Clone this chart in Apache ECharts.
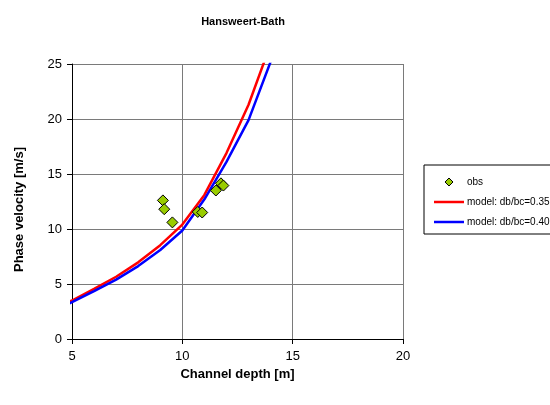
<!DOCTYPE html>
<html>
<head>
<meta charset="utf-8">
<script src="https://cdn.jsdelivr.net/npm/echarts@6/dist/echarts.min.js"></script>
<style>
html,body{margin:0;padding:0;background:#fff;}
#chart{width:550px;height:405px;}
</style>
</head>
<body>
<div id="chart"></div>
<script>
// ---- data ----
var titleText = 'Hansweert-Bath';
var xName = 'Channel depth [m]';
var yName = 'Phase velocity [m/s]';
var xTicks = [5, 10, 15, 20];
var yTicks = [0, 5, 10, 15, 20, 25];

var obsName = 'obs';
var obsDepth = [9.12, 9.18, 9.55, 10.70, 10.90, 11.52, 11.75, 11.86];
var obsVel   = [12.60, 11.80, 10.60, 11.55, 11.50, 13.50, 14.15, 13.95];

var modelDepth = [4, 5, 6, 7, 8, 9, 10, 11, 12, 13, 14, 15];
var model035Name = 'model: db/bc=0.35';
var model035Vel = [2.55, 3.50, 4.55, 5.66, 6.97, 8.53, 10.40, 13.10, 16.90, 21.30, 26.80, 33.00];
var model040Name = 'model: db/bc=0.40';
var model040Vel = [2.40, 3.35, 4.35, 5.40, 6.63, 8.09, 9.86, 12.70, 16.10, 19.90, 25.20, 31.00];

function pairs(xs, ys){ return xs.map(function(x,i){ return [x, ys[i]]; }); }

var chart = echarts.init(document.getElementById('chart'), null, {renderer:'canvas'});
var font = 'Liberation Sans, Arial, sans-serif';
var gridColor = '#7a7a7a';
var lineIcon = 'path://M0,0 L30,0 L30,2.5 L0,2.5 Z';
var diamondIcon = 'path://M4,0 L8,4 L4,8 L0,4 Z';

chart.setOption({
  backgroundColor: '#ffffff',
  animation: false,
  textStyle: { fontFamily: font },
  title: {
    text: titleText,
    left: 238, top: 11,
    textAlign: 'center',
    textStyle: { fontFamily: font, fontSize: 11, fontWeight: 'bold', color: '#000' }
  },
  grid: { left: 72, top: 64, width: 331, height: 275, containLabel: false },
  legend: {
    orient: 'vertical',
    left: 424, top: 165,
    padding: [12, 14, 7, 10],
    itemGap: 10,
    itemWidth: 30,
    itemHeight: 8,
    symbolKeepAspect: true,
    borderColor: '#000',
    borderWidth: 1,
    backgroundColor: '#fff',
    textStyle: { fontFamily: font, fontSize: 10, color: '#000', padding: [0, 0, 0, -2] },
    data: [
      { name: obsName, icon: diamondIcon, itemStyle: { color: '#99cc00', borderColor: '#000', borderWidth: 1 } },
      { name: model035Name, icon: lineIcon, itemStyle: { color: '#ff0000', borderWidth: 0 } },
      { name: model040Name, icon: lineIcon, itemStyle: { color: '#0000ff', borderWidth: 0 } }
    ]
  },
  xAxis: {
    type: 'value',
    min: xTicks[0], max: xTicks[xTicks.length-1], interval: 5,
    name: xName, nameLocation: 'middle', nameGap: 18,
    nameTextStyle: { fontFamily: font, fontSize: 13, fontWeight: 'bold', color: '#000' },
    axisLine: { show: true, onZero: false, lineStyle: { color: '#000', width: 1 } },
    axisTick: { show: true, inside: false, length: 5, lineStyle: { color: '#000' } },
    axisLabel: { fontFamily: font, fontSize: 13, color: '#000', margin: 11 },
    splitLine: { show: true, lineStyle: { color: gridColor, width: 1 } }
  },
  yAxis: {
    type: 'value',
    min: yTicks[0], max: yTicks[yTicks.length-1], interval: 5,
    name: yName, nameLocation: 'middle', nameGap: 46,
    nameTextStyle: { fontFamily: font, fontSize: 13, fontWeight: 'bold', color: '#000', padding: [0, 16, 0, 0] },
    axisLine: { show: true, onZero: false, lineStyle: { color: '#000', width: 1 } },
    axisTick: { show: true, inside: false, length: 5, lineStyle: { color: '#000' } },
    axisLabel: { fontFamily: font, fontSize: 13, color: '#000', margin: 10 },
    splitLine: { show: true, lineStyle: { color: gridColor, width: 1 } }
  },
  series: [
    {
      name: obsName, type: 'scatter',
      data: pairs(obsDepth, obsVel),
      symbol: 'diamond', symbolSize: 11,
      itemStyle: { color: '#99cc00', borderColor: '#000', borderWidth: 1, opacity: 1 },
      z: 5
    },
    {
      name: model035Name, type: 'line',
      data: pairs(modelDepth, model035Vel),
      symbol: 'none', showSymbol: false, smooth: false, clip: true,
      lineStyle: { color: '#ff0000', width: 2.5 },
      itemStyle: { color: '#ff0000' },
      z: 3
    },
    {
      name: model040Name, type: 'line',
      data: pairs(modelDepth, model040Vel),
      symbol: 'none', showSymbol: false, smooth: false, clip: true,
      lineStyle: { color: '#0000ff', width: 2.5 },
      itemStyle: { color: '#0000ff' },
      z: 3
    }
  ]
});
</script>
</body>
</html>
